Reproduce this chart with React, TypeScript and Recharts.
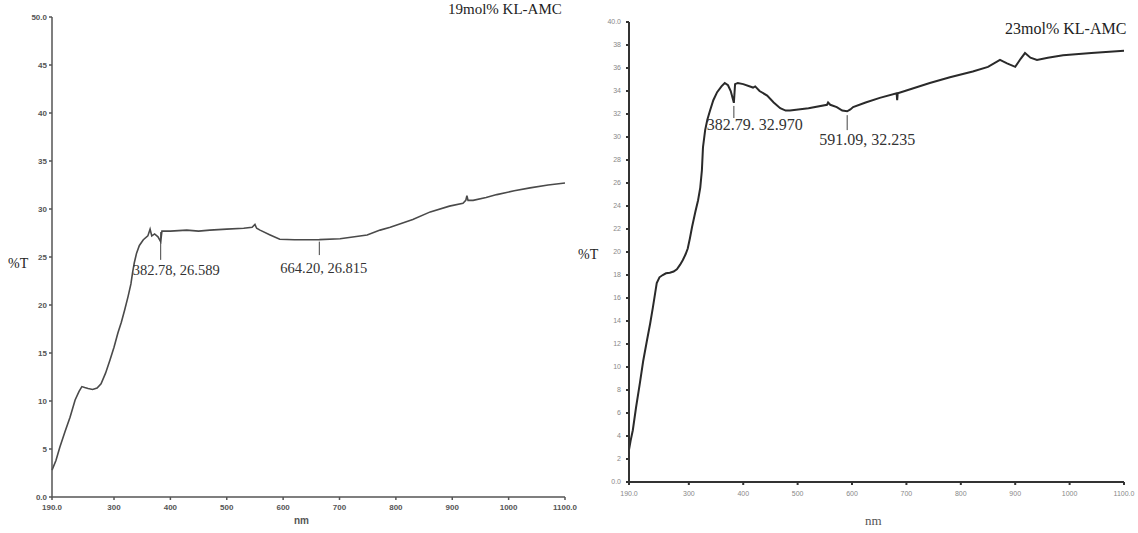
import React from "react";
import { LineChart, Line, XAxis, YAxis, ReferenceLine, ReferenceDot } from "recharts";

// 19mol% KL-AMC spectrum (nm, %T)
const leftNm = [190, 197, 204, 213, 222, 231, 238, 243, 248, 254, 262, 270, 277, 285, 293, 300, 307, 313, 319, 325, 330, 333, 336, 340, 345, 352, 360, 364, 367, 372, 378, 382.78, 385, 400, 429, 450, 470, 500, 530, 545, 550, 553, 559, 577, 594, 620, 664.2, 701, 749, 772, 790, 830, 861, 895, 919, 924, 926, 928, 937, 960, 979, 1010, 1038, 1070, 1100];
const leftT = [2.8, 3.8, 5.2, 6.8, 8.3, 10.1, 11.0, 11.5, 11.4, 11.3, 11.2, 11.35, 11.8, 12.9, 14.3, 15.6, 17.1, 18.2, 19.5, 20.9, 22.2, 23.4, 24.4, 25.4, 26.2, 26.8, 27.2, 27.9, 27.2, 27.4, 27.1, 26.6, 27.7, 27.7, 27.8, 27.7, 27.8, 27.9, 28.0, 28.1, 28.4, 28.0, 27.8, 27.3, 26.85, 26.8, 26.815, 26.9, 27.3, 27.8, 28.1, 28.9, 29.7, 30.3, 30.6, 30.9, 31.4, 30.9, 30.9, 31.2, 31.5, 31.9, 32.2, 32.5, 32.7];

// 23mol% KL-AMC spectrum (nm, %T)
const rightNm = [190, 193, 197, 203, 210, 216, 223, 229, 234, 238, 241, 246, 252, 258, 265, 272, 278, 284, 289, 294, 298, 302, 306, 312, 317, 321, 324, 326, 330, 334, 339, 345, 352, 360, 366, 372, 377, 382.79, 385, 390, 400, 418, 422, 430, 444, 456, 468, 478, 486, 520, 554, 556, 560, 572, 582, 591.09, 597, 602, 625, 651, 682, 683, 684, 710, 743, 780, 822, 850, 872, 885, 900, 910, 918, 928, 940, 960, 988, 1040, 1100];
const rightT = [2.8, 3.6, 4.5, 6.5, 8.6, 10.5, 12.3, 13.8, 15.2, 16.4, 17.3, 17.8, 18.0, 18.15, 18.2, 18.3, 18.5, 18.9, 19.3, 19.8, 20.3, 21.2, 22.2, 23.5, 24.5, 25.6, 27.1, 29.1, 30.6, 31.5, 32.3, 33.2, 33.9, 34.4, 34.7, 34.5, 34.0, 32.97, 34.6, 34.7, 34.6, 34.3, 34.4, 34.0, 33.6, 33.0, 32.5, 32.3, 32.3, 32.5, 32.8, 33.0, 32.8, 32.6, 32.3, 32.235, 32.4, 32.6, 33.0, 33.4, 33.8, 33.2, 33.8, 34.2, 34.7, 35.2, 35.7, 36.1, 36.7, 36.4, 36.1, 36.8, 37.3, 36.9, 36.7, 36.9, 37.1, 37.3, 37.5];

const xTicks = [190, 300, 400, 500, 600, 700, 800, 900, 1000, 1100];
const leftYTicks = [0, 5, 10, 15, 20, 25, 30, 35, 40, 45, 50];
const rightYTicks = [0, 2, 4, 6, 8, 10, 12, 14, 16, 18, 20, 22, 24, 26, 28, 30, 32, 34, 36, 38, 40];

// annotations: x, top of tick, bottom of tick, text
const leftMarks = [
  { x: 382.78, top: 27.6, bottom: 24.7, text: "382.78, 26.589", dx: -28, dy: 15 },
  { x: 664.2, top: 26.6, bottom: 25.2, text: "664.20, 26.815", dx: -39, dy: 18 },
];
const rightMarks = [
  { x: 382.79, top: 32.7, bottom: 31.65, text: "382.79. 32.970", dx: -27, dy: 12 },
  { x: 591.09, top: 31.9, bottom: 30.6, text: "591.09, 32.235", dx: -28, dy: 15 },
];

const leftData = leftNm.map((nm, i) => ({ nm, t: leftT[i] }));
const rightData = rightNm.map((nm, i) => ({ nm, t: rightT[i] }));

const fmtX = (v: number) => (v === 190 ? "190.0" : v === 1100 ? "1100.0" : String(v));
const fmtYL = (v: number) => (v === 0 ? "0.0" : v === 50 ? "50.0" : String(v));
const fmtYR = (v: number) => (v === 0 ? "0.0" : v === 40 ? "40.0" : String(v));

const serif = "'Liberation Serif', 'Times New Roman', serif";
const sans = "'Liberation Sans', Arial, sans-serif";

function marks(list: typeof leftMarks, size: number, color: string) {
  const out: React.ReactNode[] = [];
  list.forEach((m, i) => {
    out.push(
      <ReferenceLine
        key={"l" + i}
        segment={[{ x: m.x, y: m.top }, { x: m.x, y: m.bottom }]}
        stroke="#444"
        strokeWidth={1}
      />
    );
    out.push(
      <ReferenceDot
        key={"d" + i}
        x={m.x}
        y={m.bottom}
        r={0}
        shape={(p: any) => (
          <text x={p.cx + m.dx} y={p.cy + m.dy} fontFamily={serif} fontSize={size} fill={color}>
            {m.text}
          </text>
        )}
      />
    );
  });
  return out;
}

export default function App() {
  return (
    <div style={{ position: "absolute", left: 0, top: 0, width: 1138, height: 533, background: "#fff", overflow: "hidden" }}>
      <div style={{ position: "absolute", left: 0, top: 0 }}>
        <LineChart width={590} height={533} data={leftData} margin={{ top: 17, right: 25, bottom: 6, left: 2 }}>
          <XAxis
            dataKey="nm"
            type="number"
            domain={[190, 1100]}
            ticks={xTicks}
            tickFormatter={fmtX}
            height={30}
            tickSize={3}
            tickMargin={4}
            interval={0}
            stroke="#555"
            strokeWidth={1.5}
            tick={{ fontSize: 8, fill: "#555", fontFamily: sans, fontWeight: "bold" }}
          />
          <YAxis
            type="number"
            domain={[0, 50]}
            ticks={leftYTicks}
            tickFormatter={fmtYL}
            width={50}
            tickSize={3}
            tickMargin={2}
            interval={0}
            stroke="#555"
            strokeWidth={1.5}
            tick={{ fontSize: 8, fill: "#555", fontFamily: sans, fontWeight: "bold" }}
          />
          <Line dataKey="t" type="linear" stroke="#4a4a4a" strokeWidth={1.6} dot={false} isAnimationActive={false} />
          {marks(leftMarks, 14.5, "#333")}
        </LineChart>
      </div>
      <div style={{ position: "absolute", left: 570, top: 0 }}>
        <LineChart width={568} height={533} data={rightData} margin={{ top: 22, right: 14, bottom: 21, left: 9 }}>
          <XAxis
            dataKey="nm"
            type="number"
            domain={[190, 1100]}
            ticks={xTicks}
            tickFormatter={fmtX}
            height={30}
            tickSize={3}
            tickMargin={6}
            interval={0}
            stroke="#333"
            strokeWidth={2}
            tick={{ fontSize: 7, fill: "#888", fontFamily: sans }}
          />
          <YAxis
            type="number"
            domain={[0, 40]}
            ticks={rightYTicks}
            tickFormatter={fmtYR}
            width={50}
            tickSize={3}
            tickMargin={5}
            interval={0}
            stroke="#333"
            strokeWidth={2}
            tick={{ fontSize: 7, fill: "#888", fontFamily: sans }}
          />
          <Line dataKey="t" type="linear" stroke="#2a2a2a" strokeWidth={2} dot={false} isAnimationActive={false} />
          {marks(rightMarks, 16, "#333")}
        </LineChart>
      </div>
      <div style={{ position: "absolute", left: 448, top: 1, fontFamily: serif, fontSize: 15, color: "#222", whiteSpace: "nowrap" }}>19mol% KL-AMC</div>
      <div style={{ position: "absolute", left: 1005, top: 20, fontFamily: serif, fontSize: 16, color: "#222", whiteSpace: "nowrap" }}>23mol% KL-AMC</div>
      <div style={{ position: "absolute", left: 8, top: 256, fontFamily: serif, fontSize: 14, color: "#222" }}>%T</div>
      <div style={{ position: "absolute", left: 578, top: 247, fontFamily: serif, fontSize: 14, color: "#222" }}>%T</div>
      <div style={{ position: "absolute", left: 294, top: 515, fontFamily: sans, fontSize: 10, fontWeight: "bold", color: "#555" }}>nm</div>
      <div style={{ position: "absolute", left: 865, top: 513, fontFamily: serif, fontSize: 13, color: "#555" }}>nm</div>
    </div>
  );
}
